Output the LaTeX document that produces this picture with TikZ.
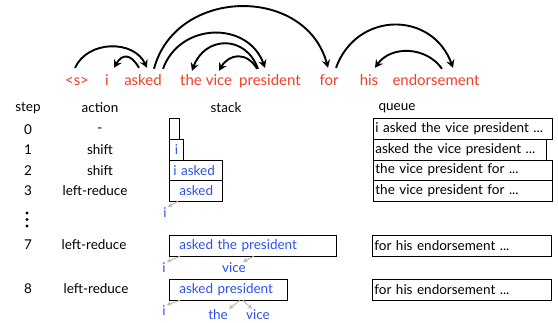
\documentclass[tikz,border=0pt]{standalone}
\usepackage{fontspec}
\setmainfont{Lato}
\usetikzlibrary{arrows.meta,positioning}
\definecolor{wordred}{RGB}{238,64,40}
\definecolor{treeblue}{RGB}{45,80,235}
\newcommand{\cellfont}{\fontsize{13.5}{15}\selectfont}
\tikzset{
    word/.style={text=wordred, font=\fontsize{15}{17}\selectfont, text height=10pt, text depth=3pt, inner sep=1pt, anchor=base},
    dep/.style={-{Stealth[length=8pt,width=8.5pt,inset=3pt]}, line width=1.9pt, black},
    cell/.style={font=\cellfont, inner sep=1pt},
    stackbox/.style={draw, line width=0.8pt, anchor=north west, minimum height=20.5pt, inner ysep=0pt, text=treeblue, font=\cellfont, align=left},
    qbox/.style={draw, line width=0.8pt, anchor=north west, minimum height=20.5pt, inner ysep=0pt, inner xsep=2pt, text width=175pt, font=\cellfont, align=left},
    child/.style={text=treeblue, font=\cellfont, inner sep=1pt},
    sub/.style={-{Stealth[length=4.5pt,width=4.5pt]}, gray!55, line width=1pt}
}

\begin{document}
\begin{tikzpicture}[x=1pt, y=-1pt]
    \useasboundingbox (0,0) rectangle (558,322);
    % the sentence
    \node[word] (s) at (77,85) {<s>};
    \node[word] (i) at (107,85) {i};
    \node[word] (asked) at (143,85) {asked};
    \node[word] (the) at (191,85) {the};
    \node[word] (vice) at (219,85) {vice};
    \node[word] (president) at (270,85) {president};
    \node[word] (for) at (329,85) {for};
    \node[word] (his) at (369,85) {his};
    \node[word] (endorsement) at (436,85) {endorsement};
    % dependencies
    \draw[dep] ([xshift=-2pt,yshift=6pt]s.north) to[out=65,in=115,looseness=1.1] ([xshift=4pt,yshift=6pt]asked.north);
    \draw[dep] ([xshift=-4pt,yshift=6pt]asked.north) to[out=120,in=60,looseness=1.7] ([xshift=7pt,yshift=6pt]i.north);
    \draw[dep] ([xshift=11pt,yshift=5pt]asked.north) to[out=75,in=105,looseness=1.25] ([xshift=-1pt,yshift=6pt]for.north);
    \draw[dep] ([xshift=20pt,yshift=5pt]asked.north) to[out=70,in=110,looseness=1.25] ([xshift=-5pt,yshift=6pt]president.north);
    \draw[dep] ([xshift=-12pt,yshift=5pt]president.north) to[out=110,in=70,looseness=1.43] ([xshift=1pt,yshift=3pt]the.north);
    \draw[dep] ([xshift=-13pt,yshift=5pt]president.north) to[out=120,in=60,looseness=1.35] ([yshift=3pt]vice.north);
    \draw[dep] ([xshift=7pt,yshift=6pt]for.north) to[out=70,in=110,looseness=1.33] ([xshift=17pt,yshift=6pt]endorsement.north);
    \draw[dep] ([xshift=6pt,yshift=5pt]endorsement.north) to[out=125,in=55,looseness=1.05] ([xshift=6pt,yshift=6pt]his.north);

    % table head
    \node[cell] (hstep) at (28,108) {step};
    \node[cell] (haction) at (100,108) {action};
    \node[cell] (hstack) at (226,108) {stack};
    \node[cell] (hqueue) at (397,108) {queue};

    % steps and actions
    \node[cell] (n0) at (28,130) {0};
    \node[cell] (a0) at (100,130) {-};
    \node[cell] (n1) at (28,150) {1};
    \node[cell] (a1) at (100,150) {shift};
    \node[cell] (n2) at (28,171) {2};
    \node[cell] (a2) at (100,171) {shift};
    \node[cell] (n3) at (28,191) {3};
    \node[cell] (a3) at (95,191) {left-reduce};
    \foreach \y in {213,219.5,226}
      \fill (27,\y) circle (1.6pt);
    \node[cell] (n7) at (28,245) {7};
    \node[cell] (a7) at (94,245) {left-reduce};
    \node[cell] (n8) at (28,289) {8};
    \node[cell] (a8) at (96,289) {left-reduce};

    % stack
    \node[stackbox, minimum width=10pt] (s0) at (169,118) {};
    \node[stackbox, minimum width=14pt] (s1) at (169,139) {i};
    \node[stackbox, inner xsep=4pt, text width=45pt] (s2) at (169,159.5) {i asked};
    \node[stackbox, inner xsep=10pt, text width=33pt] (s3) at (169,180) {asked};
    \node[child] (c3i) at (165,213) {i};
    \draw[sub] ([xshift=9pt]s3.south west) -- (c3i.north east);
    \node[stackbox, inner xsep=10pt, text width=147pt] (s7) at (169,235) {asked the president};
    \node[child] (c7i) at (164,268) {i};
    \node[child] (c7v) at (234,268) {vice};
    \draw[sub] ([xshift=11pt]s7.south west) -- (c7i.north east);
    \draw[sub] ([xshift=85pt]s7.south west) -- ([xshift=9pt]c7v.north);
    \node[stackbox, inner xsep=10pt, text width=98pt] (s8) at (169,279) {asked president};
    \node[child] (c8i) at (164,311) {i};
    \node[child] (c8t) at (218,315) {the};
    \node[child] (c8v) at (258,315) {vice};
    \draw[sub] ([xshift=11pt]s8.south west) -- (c8i.north east);
    \draw[sub] ([xshift=71pt]s8.south west) -- (c8t.north east);
    \draw[sub] ([xshift=74pt]s8.south west) -- ([xshift=-6pt]c8v.north);

    % queue
    \node[qbox] (q0) at (373,118) {i asked the vice president ...};
    \node[qbox, text width=169pt] (q1) at (373,139) {asked the vice president ...};
    \node[qbox] (q2) at (373,159.5) {the vice president for ...};
    \node[qbox] (q3) at (373,180) {the vice president for ...};
    \node[qbox] (q7) at (372,235) {for his endorsement ...};
    \node[qbox] (q8) at (372,279) {for his endorsement ...};
\end{tikzpicture}
\end{document}
